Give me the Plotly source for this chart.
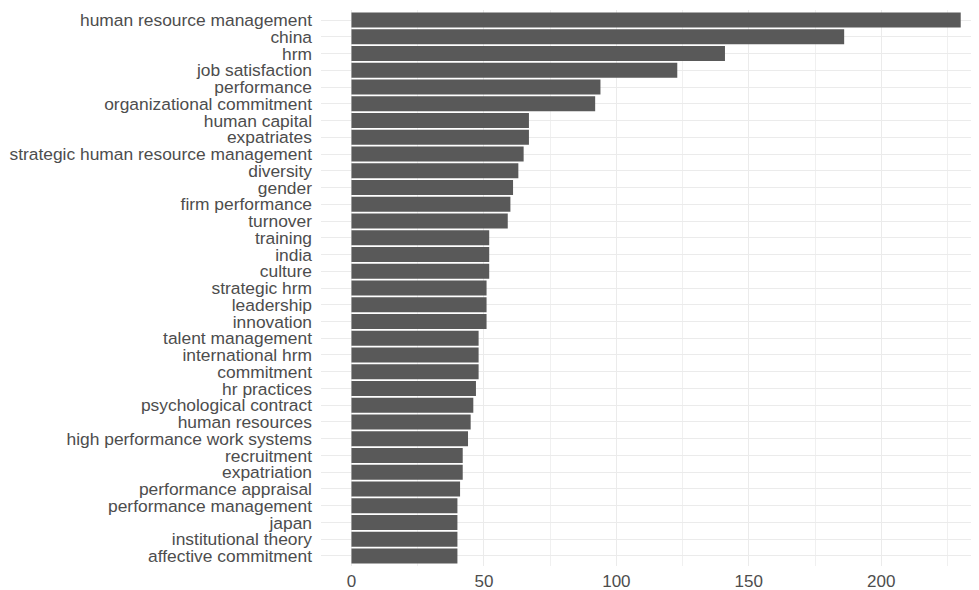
import plotly.graph_objects as go

keywords = [
    "human resource management", "china", "hrm", "job satisfaction", "performance",
    "organizational commitment", "human capital", "expatriates",
    "strategic human resource management", "diversity", "gender", "firm performance",
    "turnover", "training", "india", "culture", "strategic hrm", "leadership",
    "innovation", "talent management", "international hrm", "commitment",
    "hr practices", "psychological contract", "human resources",
    "high performance work systems", "recruitment", "expatriation",
    "performance appraisal", "performance management", "japan",
    "institutional theory", "affective commitment",
]
counts = [
    230, 186, 141, 123, 94,
    92, 67, 67,
    65, 63, 61, 60,
    59, 52, 52, 52, 51, 51,
    51, 48, 48, 48,
    47, 46, 45,
    44, 42, 42,
    41, 40, 40,
    40, 40,
]
x_ticks = [0, 50, 100, 150, 200]

fig = go.Figure(
    go.Bar(
        x=counts,
        y=keywords,
        orientation="h",
        marker=dict(color="#595959", line=dict(width=0)),
        width=0.9,
    )
)

font = "Liberation Sans, Arial, sans-serif"
fig.update_layout(
    width=971,
    height=582,
    margin=dict(l=312.5, r=0, t=2, b=24, autoexpand=False),
    plot_bgcolor="white",
    paper_bgcolor="white",
    showlegend=False,
    font=dict(family=font, size=17, color="#4d4d4d"),
)
fig.update_xaxes(
    range=[-11.5, 236.9],
    tickmode="array",
    tickvals=x_ticks,
    ticktext=[str(v) for v in x_ticks],
    showgrid=True,
    gridcolor="#ebebeb",
    gridwidth=1.1,
    minor=dict(tickmode="array", tickvals=[25, 75, 125, 175, 225], showgrid=True,
               gridcolor="#f0f0f0", gridwidth=0.8),
    zeroline=False,
    showline=False,
    ticks="",
    ticklabelstandoff=3,
    tickfont=dict(family=font, size=17, color="#4d4d4d"),
)
fig.update_yaxes(
    categoryorder="array",
    categoryarray=keywords,
    tickmode="array",
    tickvals=keywords,
    ticktext=keywords,
    range=[32.6, -0.6],
    showgrid=True,
    gridcolor="#ebebeb",
    gridwidth=1.1,
    zeroline=False,
    showline=False,
    ticks="",
    ticklabelstandoff=8,
    tickfont=dict(family=font, size=17.4, color="#4d4d4d"),
)

fig.write_html("out.html")
